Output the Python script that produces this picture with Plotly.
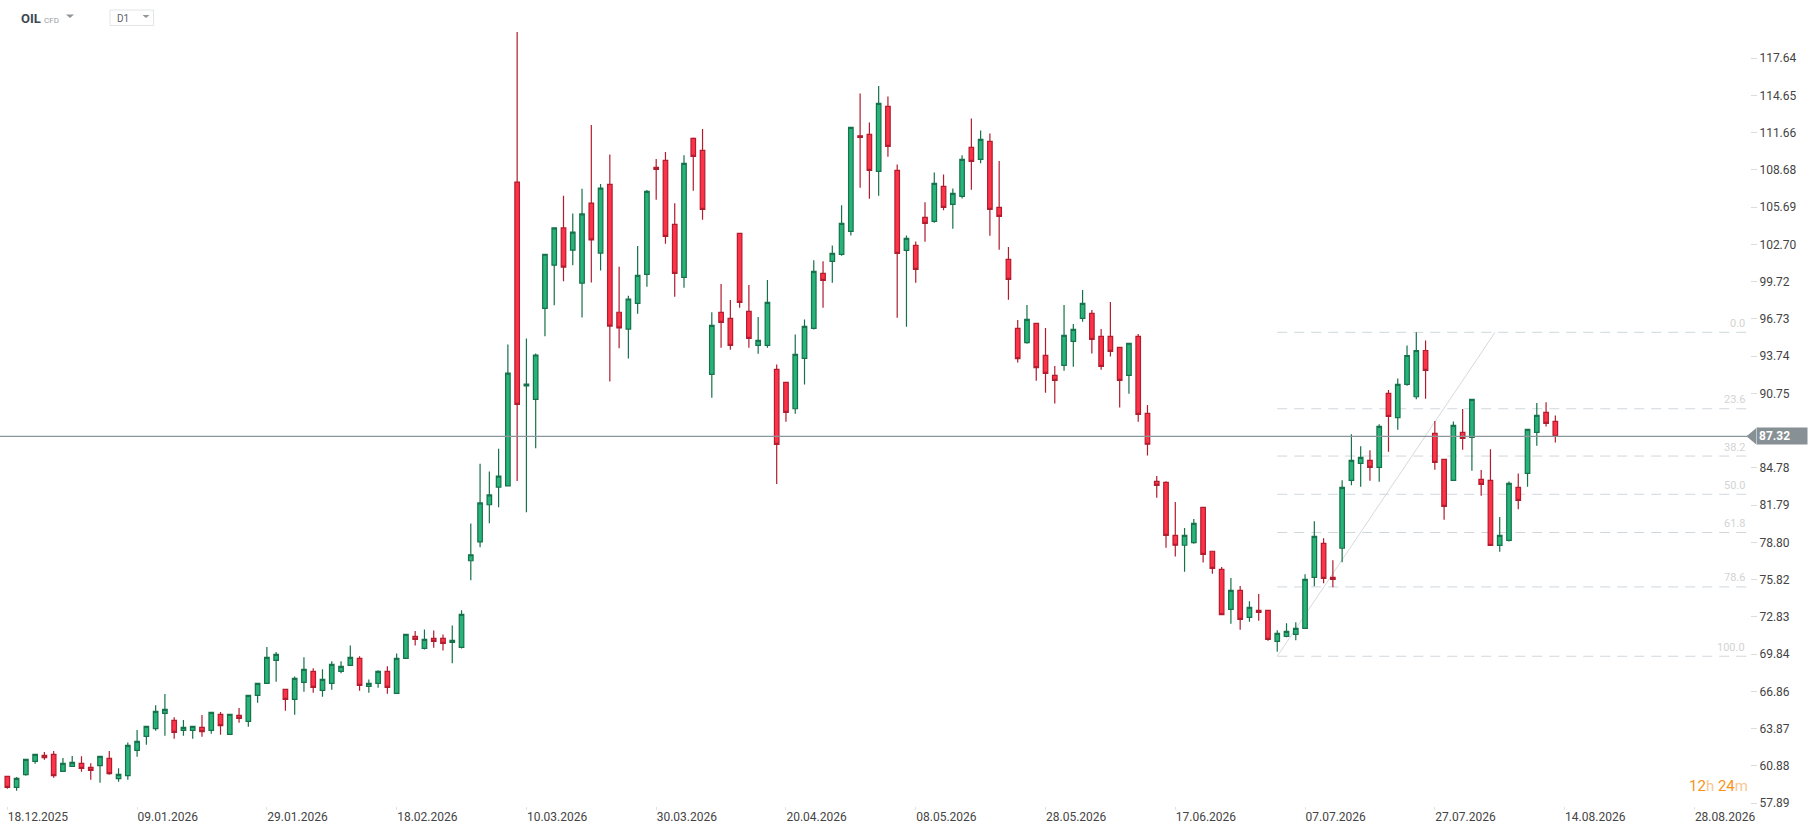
import plotly.graph_objects as go

# daily OHLC, one row per trading day starting 18.12.2025
opens = [60.05, 59.16, 60.18, 61.25, 61.73, 61.81, 60.45, 60.85, 61.09, 60.77,
         60.90, 61.49, 59.86, 60.10, 62.13, 63.25, 63.87, 65.10, 64.54, 63.74,
         63.74, 63.98, 63.73, 65.02, 63.41, 64.94, 64.46, 66.54, 67.50, 69.35,
         67.02, 66.22, 67.58, 68.47, 66.94, 67.50, 68.47, 68.95, 69.51, 67.26,
         67.50, 68.47, 66.70, 69.51, 71.27, 70.31, 71.11, 71.11, 70.79, 70.39,
         77.34, 78.85, 81.83, 83.25, 83.34, 107.71, 91.36, 90.28, 97.58, 101.04,
         104.03, 102.25, 99.60, 106.02, 102.01, 107.53, 97.27, 95.92, 97.98, 100.30,
         108.88, 109.45, 104.31, 100.06, 111.21, 110.25, 92.28, 97.26, 96.77, 103.59,
         97.34, 94.61, 94.61, 92.68, 91.64, 89.53, 93.57, 95.97, 100.38, 101.35,
         101.91, 103.75, 111.42, 111.53, 108.56, 113.78, 108.64, 102.23, 102.63, 104.87,
         104.55, 107.36, 105.92, 106.56, 110.49, 109.53, 110.97, 105.68, 101.51, 95.98,
         94.83, 96.38, 93.81, 92.21, 93.01, 94.94, 96.78, 97.18, 95.34, 95.34,
         94.45, 92.21, 95.34, 89.16, 83.71, 83.63, 79.38, 78.58, 78.79, 81.62,
         78.10, 76.65, 73.44, 74.97, 72.80, 73.36, 73.36, 70.88, 71.28, 71.44,
         71.92, 76.01, 78.74, 76.01, 78.34, 83.79, 85.15, 85.39, 84.83, 90.76,
         88.81, 91.48, 90.49, 94.20, 87.55, 85.47, 83.78, 87.63, 87.23, 83.86,
         83.78, 78.57, 78.97, 83.22, 84.34, 87.63, 89.24, 88.51]
highs = [60.10, 59.99, 61.45, 61.81, 62.00, 62.08, 61.52, 61.68, 61.65, 61.09,
         61.65, 62.08, 60.69, 62.77, 63.76, 64.06, 65.74, 66.65, 64.78, 64.57,
         64.08, 64.96, 65.18, 65.20, 65.02, 65.53, 66.54, 67.50, 70.42, 70.02,
         67.02, 68.06, 69.59, 68.71, 68.63, 69.27, 69.27, 70.55, 69.67, 67.82,
         68.55, 68.87, 69.91, 71.43, 71.70, 71.83, 71.75, 71.43, 72.15, 73.36,
         80.32, 85.12, 84.49, 86.33, 94.68, 119.74, 95.16, 93.96, 101.92, 104.03,
         106.62, 105.18, 107.17, 112.29, 107.56, 109.91, 100.92, 98.60, 102.58, 107.07,
         109.55, 110.11, 106.00, 109.85, 111.29, 111.96, 97.26, 99.53, 98.25, 103.59,
         99.45, 96.88, 99.85, 93.08, 91.64, 95.49, 96.69, 101.43, 101.35, 102.63,
         105.84, 112.09, 114.82, 112.49, 115.41, 114.58, 109.12, 103.43, 102.95, 106.08,
         108.48, 108.32, 107.20, 109.85, 112.81, 111.85, 111.61, 109.39, 102.50, 96.65,
         97.85, 96.38, 96.01, 92.96, 97.85, 96.33, 99.05, 97.45, 95.93, 98.09,
         94.45, 94.78, 95.52, 89.83, 84.14, 83.71, 82.05, 79.97, 80.69, 81.62,
         78.10, 76.84, 75.96, 75.32, 74.09, 74.67, 73.36, 71.76, 72.32, 72.40,
         76.25, 80.50, 79.14, 77.37, 83.79, 87.48, 86.52, 86.20, 88.28, 91.03,
         91.96, 94.60, 95.66, 95.00, 88.54, 85.47, 88.51, 89.50, 90.28, 84.61,
         86.29, 80.84, 83.70, 84.34, 87.87, 89.98, 90.06, 88.99]
lows = [59.06, 58.90, 60.10, 61.06, 61.38, 59.94, 60.45, 60.85, 60.42, 59.78,
        59.54, 60.18, 59.62, 59.78, 61.62, 62.59, 63.71, 63.31, 63.07, 63.31,
        63.07, 63.23, 63.47, 63.39, 63.41, 64.35, 64.03, 65.95, 67.50, 67.64,
        65.31, 64.99, 66.84, 66.76, 66.43, 67.00, 68.31, 68.95, 66.92, 66.76,
        67.16, 66.68, 66.70, 69.51, 70.55, 70.23, 70.36, 70.15, 69.11, 70.31,
        75.77, 78.42, 80.35, 81.62, 83.34, 83.73, 81.23, 86.36, 95.34, 97.82,
        99.75, 101.04, 96.85, 99.66, 100.62, 91.72, 94.38, 93.56, 97.15, 99.31,
        106.29, 102.76, 98.51, 99.23, 107.01, 104.69, 90.41, 94.42, 94.26, 97.63,
        94.42, 93.94, 94.42, 83.50, 88.49, 89.13, 91.48, 95.89, 97.63, 99.63,
        101.80, 103.43, 107.25, 106.37, 106.61, 109.74, 96.83, 96.11, 99.63, 102.92,
        104.45, 105.44, 103.96, 106.40, 107.09, 109.21, 103.40, 102.28, 98.28, 93.23,
        94.75, 91.78, 90.82, 89.94, 92.58, 92.90, 96.51, 93.95, 92.66, 93.71,
        89.62, 90.74, 88.49, 85.77, 82.40, 78.39, 77.67, 76.46, 78.71, 77.19,
        76.30, 73.02, 72.29, 71.81, 72.45, 72.53, 70.93, 70.05, 71.20, 70.96,
        71.92, 75.29, 75.53, 75.21, 77.21, 83.39, 83.28, 83.76, 83.68, 86.08,
        87.84, 91.37, 90.30, 90.33, 84.64, 80.63, 83.78, 86.24, 84.56, 82.55,
        78.57, 78.06, 78.89, 81.46, 83.27, 86.56, 88.11, 86.83]
closes = [59.16, 59.89, 61.41, 61.81, 61.54, 60.10, 61.09, 61.17, 60.69, 60.53,
          61.65, 60.26, 60.21, 62.53, 62.85, 64.06, 65.26, 65.42, 63.58, 63.98,
          64.06, 63.63, 65.18, 64.11, 65.02, 64.70, 66.54, 67.50, 69.59, 69.83,
          66.22, 67.90, 68.63, 67.18, 67.82, 69.03, 68.87, 69.59, 67.34, 67.50,
          68.47, 67.18, 69.51, 71.43, 71.03, 71.03, 70.87, 70.71, 70.95, 73.04,
          77.82, 81.98, 82.62, 84.12, 92.39, 89.88, 91.51, 93.84, 101.92, 104.03,
          100.89, 103.70, 105.15, 103.07, 107.23, 96.16, 96.01, 98.33, 100.22, 106.96,
          108.72, 103.35, 100.38, 109.20, 109.77, 105.52, 96.21, 96.45, 94.61, 98.06,
          95.17, 95.01, 98.06, 86.67, 89.24, 93.89, 96.13, 100.54, 99.82, 101.99,
          104.39, 112.09, 111.29, 108.64, 114.02, 110.57, 101.99, 103.19, 100.70, 104.39,
          107.60, 105.68, 106.80, 109.53, 109.37, 111.13, 105.52, 104.95, 99.91, 93.55,
          96.70, 92.82, 92.37, 91.81, 95.42, 95.90, 97.98, 95.10, 92.93, 94.13,
          91.81, 94.78, 89.08, 86.68, 83.39, 79.38, 78.58, 79.38, 80.34, 77.85,
          76.73, 73.02, 74.97, 72.64, 73.60, 73.20, 71.04, 71.52, 71.68, 71.92,
          75.85, 79.30, 75.93, 75.85, 83.23, 85.39, 85.63, 84.83, 88.12, 88.91,
          91.48, 93.80, 94.20, 92.60, 85.23, 81.70, 88.19, 87.15, 90.28, 83.46,
          78.57, 79.37, 83.54, 82.18, 87.87, 88.99, 88.35, 87.32]

date_ticks = [0, 14, 28, 42, 56, 70, 84, 98, 112, 126, 140, 154, 168, 182]
date_labels = ["18.12.2025", "09.01.2026", "29.01.2026", "18.02.2026", "10.03.2026",
               "30.03.2026", "20.04.2026", "08.05.2026", "28.05.2026", "17.06.2026",
               "07.07.2026", "27.07.2026", "14.08.2026", "28.08.2026"]

# 87.77 sits under the last-price tag, so it is left out
price_ticks = [117.64, 114.65, 111.66, 108.68, 105.69, 102.70, 99.72, 96.73, 93.74,
               90.75, 84.78, 81.79, 78.80, 75.82, 72.83, 69.84, 66.86, 63.87,
               60.88, 57.89]

last_price = 87.32

# fibonacci tool: anchored on the swing low (bar 137) and the swing high
fib_low_bar, fib_low = 137, 69.68
fib_high_bar, fib_high = 160.5, 95.66
fib_ratios = [0.0, 23.6, 38.2, 50.0, 61.8, 78.6, 100.0]

bars = list(range(len(opens)))

# plot area geometry in pixels (used for paper coordinates)
W, H = 1818, 831
PW, PH = 1750, 806
X_RANGE = [-0.79, 188.0]
Y_RANGE = [57.67, 122.31]
px_per_unit = PH / (Y_RANGE[1] - Y_RANGE[0])


def px(x):
    return x / PW


def py(y):
    return 1 - y / PH


fig = go.Figure()

fig.add_trace(go.Candlestick(
    x=bars, open=opens, high=highs, low=lows, close=closes,
    increasing=dict(fillcolor="#27b379", line=dict(color="#16724a", width=1.2)),
    decreasing=dict(fillcolor="#ff3348", line=dict(color="#b11c2f", width=1.2)),
    whiskerwidth=0,
    hoverinfo="skip",
    showlegend=False,
))

shapes = []
annotations = []

# fibonacci retracement levels
for r in fib_ratios:
    lvl = fib_high - r / 100 * (fib_high - fib_low)
    shapes.append(dict(type="line", xref="x", yref="y", x0=fib_low_bar, x1=X_RANGE[1],
                       y0=lvl, y1=lvl, line=dict(color="#cfd7dd", width=1, dash="10px,7px"),
                       layer="below"))
    annotations.append(dict(x=px(1747), y=lvl, xref="paper", yref="y", text=f"{r:.1f}",
                            showarrow=False, xanchor="right", yanchor="middle", yshift=9,
                            font=dict(family="Roboto", size=11, color="#d3d3d3")))

shapes.append(dict(type="line", xref="x", yref="y", x0=fib_low_bar, y0=fib_low,
                   x1=fib_high_bar, y1=fib_high, line=dict(color="#d6d9dc", width=1),
                   layer="below"))

# current price line + tag (arrow tip as a shape, box as the annotation background)
shapes.append(dict(type="line", xref="paper", yref="y", x0=0, x1=1, y0=last_price,
                   y1=last_price, line=dict(color="#8b969a", width=1.2)))
hh = 8 / px_per_unit
shapes.append(dict(type="path", xref="paper", yref="y", layer="above",
                   path=(f"M {px(1746.5)},{last_price} L {px(1756)},{last_price + hh} "
                         f"L {px(1756)},{last_price - hh} Z"),
                   fillcolor="#879094", line=dict(width=0)))
annotations.append(dict(x=px(1755.5), y=last_price, xref="paper", yref="y",
                        text=f"<b>{last_price:.2f}</b>", showarrow=False,
                        xanchor="left", yanchor="middle", align="left",
                        width=46, height=12, borderpad=2, bgcolor="#879094",
                        font=dict(family="Roboto", size=12, color="white")))

# header: instrument + interval selector
annotations.append(dict(x=px(19), y=py(19), xref="paper", yref="paper", text="<b>OIL</b>",
                        showarrow=False, xanchor="left", yanchor="middle",
                        font=dict(family="Roboto", size=13, color="#3d4852")))
annotations.append(dict(x=px(42), y=py(20), xref="paper", yref="paper", text="CFD",
                        showarrow=False, xanchor="left", yanchor="middle",
                        font=dict(family="Roboto", size=8, color="#9aa0a6")))
shapes.append(dict(type="path", xref="paper", yref="paper",
                   path=f"M {px(66)},{py(14.5)} L {px(74)},{py(14.5)} L {px(70)},{py(18)} Z",
                   fillcolor="#8f959a", line=dict(width=0)))
shapes.append(dict(type="rect", xref="paper", yref="paper", x0=px(110), x1=px(153.5),
                   y0=py(10), y1=py(25.5), line=dict(color="#e2e4e6", width=1),
                   fillcolor="rgba(0,0,0,0)"))
annotations.append(dict(x=px(114.5), y=py(18.5), xref="paper", yref="paper", text="D1",
                        showarrow=False, xanchor="left", yanchor="middle",
                        font=dict(family="Roboto", size=10, color="#5f6469")))
shapes.append(dict(type="path", xref="paper", yref="paper",
                   path=f"M {px(142.5)},{py(15)} L {px(149.5)},{py(15)} L {px(146)},{py(18)} Z",
                   fillcolor="#8f959a", line=dict(width=0)))

# candle countdown
annotations.append(dict(x=px(1750), y=py(786), xref="paper", yref="paper",
                        text=("<span style='color:#f7941d'>12</span>"
                              "<span style='color:#f8c690'>h</span> "
                              "<span style='color:#f7941d'>24</span>"
                              "<span style='color:#f8c690'>m</span>"),
                        showarrow=False, xanchor="right", yanchor="middle",
                        font=dict(family="Roboto", size=15)))

fig.update_layout(
    width=W, height=H,
    margin=dict(l=0, r=W - PW, t=0, b=H - PH),
    paper_bgcolor="white", plot_bgcolor="white",
    shapes=shapes, annotations=annotations,
    hovermode=False,
    xaxis=dict(range=X_RANGE, tickvals=date_ticks, ticktext=date_labels,
               showgrid=False, zeroline=False, showline=False,
               ticks="outside", ticklen=3, tickcolor="#e3e3e3",
               ticklabelposition="outside right",
               tickfont=dict(family="Roboto", size=12, color="#444"),
               rangeslider=dict(visible=False)),
    yaxis=dict(range=Y_RANGE, side="right", tickvals=price_ticks,
               ticktext=[f"{v:.2f}" for v in price_ticks],
               showgrid=False, zeroline=False, showline=False,
               ticks="outside", ticklen=6, tickcolor="#dcdcdc",
               tickfont=dict(family="Roboto", size=12, color="#444")),
)

# drop the browser's default page margin so the chart sits at the window corner
fig.write_html("out.html", config={"displayModeBar": False},
               post_script="document.body.style.margin='0';")
